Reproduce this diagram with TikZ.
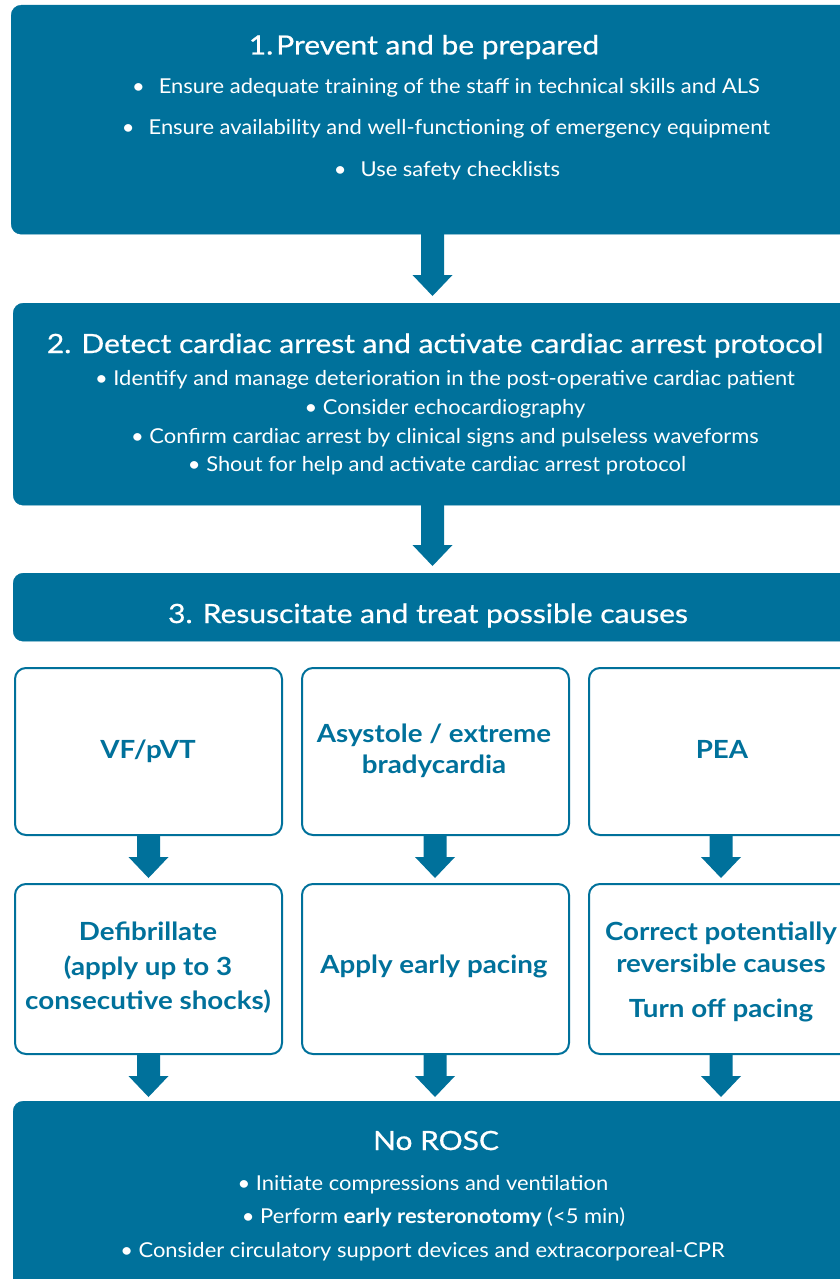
\documentclass[tikz,border=0pt]{standalone}
\usepackage{fontspec}
\setmainfont{Lato}
\newfontfamily\ttlfont{Lato}[FakeStretch=1.13,FakeBold=0.7]
\newfontfamily\bodyfont{Lato}[FakeStretch=1.07]
\newfontfamily\colfont{Lato}[FakeStretch=1.11]
\usetikzlibrary{calc}
\definecolor{tealc}{RGB}{0,113,155}
\newcommand\blockarr[2]{\fill[tealc] let \p1=(#1), \p2=(#2) in
  (\x2-11.5pt,\y1+1pt) -- (\x2-11.5pt,\y2+21pt) -- (\x2-20pt,\y2+21pt) -- (\x2,\y2)
  -- (\x2+20pt,\y2+21pt) -- (\x2+11.5pt,\y2+21pt) -- (\x2+11.5pt,\y1+1pt) -- cycle;}
\begin{document}
\begin{tikzpicture}[x=1pt,y=-1pt,
  bigbox/.style={fill=tealc, draw=tealc, rounded corners=10pt, inner sep=0pt, anchor=north west},
  colbox/.style={fill=white, draw=tealc, line width=2pt, rounded corners=11pt, inner sep=0pt,
    anchor=north west, minimum width=267pt},
  ttl/.style={text=white, font=\ttlfont\fontsize{26.5}{30}\selectfont, anchor=base, inner sep=0pt},
  body/.style={text=white, font=\bodyfont\fontsize{20.5}{24}\selectfont, anchor=base, inner sep=0pt},
  coltxt/.style={text=tealc, font=\colfont\fontsize{25}{30}\selectfont\bfseries, anchor=base, inner sep=0pt}]
\clip (0,0) rectangle (840,1279);
\fill[white] (0,0) rectangle (840,1279);
% boxes
\node[bigbox, minimum width=845pt, minimum height=229pt] (b1) at (11,5) {};
\node[bigbox, minimum width=843pt, minimum height=202pt] (b2) at (13,303) {};
\node[bigbox, minimum width=843pt, minimum height=68pt] (b3) at (13,573) {};
\node[colbox, minimum height=167pt] (r1a) at (14,667) {};
\node[colbox, minimum height=167pt] (r1b) at (301,667) {};
\node[colbox, minimum height=167pt] (r1c) at (588,667) {};
\node[colbox, minimum height=170pt] (r2a) at (14,883) {};
\node[colbox, minimum height=170pt] (r2b) at (301,883) {};
\node[colbox, minimum height=170pt] (r2c) at (588,883) {};
\node[bigbox, minimum width=843pt, minimum height=200pt] (b4) at (13,1101) {};
% arrow tips
\coordinate (t12) at (432.5,296);
\coordinate (t23) at (432.5,566);
\coordinate (ta) at (148.5,878);
\coordinate (tb) at (435,878);
\coordinate (tc) at (721,878);
\coordinate (ua) at (148.5,1097);
\coordinate (ub) at (435,1097);
\coordinate (uc) at (721,1097);
\blockarr{b1.south}{t12}
\blockarr{b2.south}{t23}
\blockarr{r1a.south}{ta}
\blockarr{r1b.south}{tb}
\blockarr{r1c.south}{tc}
\blockarr{r2a.south}{ua}
\blockarr{r2b.south}{ub}
\blockarr{r2c.south}{uc}
% box 1 text
\node[ttl] (h1) at (424,54.5) {1.\hspace{3pt}Prevent and be prepared};
\node[body] (p1) at (446,94) {\textbullet\hspace{14pt}Ensure adequate training of the staff in technical skills and ALS};
\node[body] (p2) at (446,135) {\textbullet\hspace{14pt}Ensure availability and well-functioning of emergency equipment};
\node[body] (p3) at (447,176) {\textbullet\hspace{14pt}Use safety checklists};
% box 2 text
\node[ttl] (h2) at (435,353) {2. Detect cardiac arrest and activate cardiac arrest protocol};
\node[body] (q1) at (445,385) {\textbullet{} Identify and manage deterioration in the post-operative cardiac patient};
\node[body] (q2) at (445,414) {\textbullet{} Consider echocardiography};
\node[body] (q3) at (445,443) {\textbullet{} Confirm cardiac arrest by clinical signs and pulseless waveforms};
\node[body] (q4) at (437,471) {\textbullet{} Shout for help and activate cardiac arrest protocol};
% box 3
\node[ttl] (h3) at (428,623) {3. Resuscitate and treat possible causes};
% row 1
\node[coltxt] (c1) at (148,758) {VF/pVT};
\node[coltxt] (c2a) at (434,742) {Asystole / extreme};
\node[coltxt] (c2b) at (434,773) {bradycardia};
\node[coltxt] (c3) at (722,758) {PEA};
% row 2
\node[coltxt] (d1a) at (148,940) {Defibrillate};
\node[coltxt] (d1b) at (148,975) {(apply up to 3};
\node[coltxt] (d1c) at (148,1009) {consecutive shocks)};
\node[coltxt] (d2) at (434,973) {Apply early pacing};
\node[coltxt] (d3a) at (721,940) {Correct potentially};
\node[coltxt] (d3b) at (721,972) {reversible causes};
\node[coltxt] (d3c) at (721,1017) {Turn off pacing};
% bottom
\node[ttl] (h4) at (436,1150) {No ROSC};
\node[body] (s1) at (423,1190) {\textbullet{} Initiate compressions and ventilation};
\node[body] (s2) at (433.5,1223) {\textbullet{} Perform \textbf{early resteronotomy} (<5 min)};
\node[body] (s3) at (422.5,1257) {\textbullet{} Consider circulatory support devices and extracorporeal-CPR};
\end{tikzpicture}
\end{document}
